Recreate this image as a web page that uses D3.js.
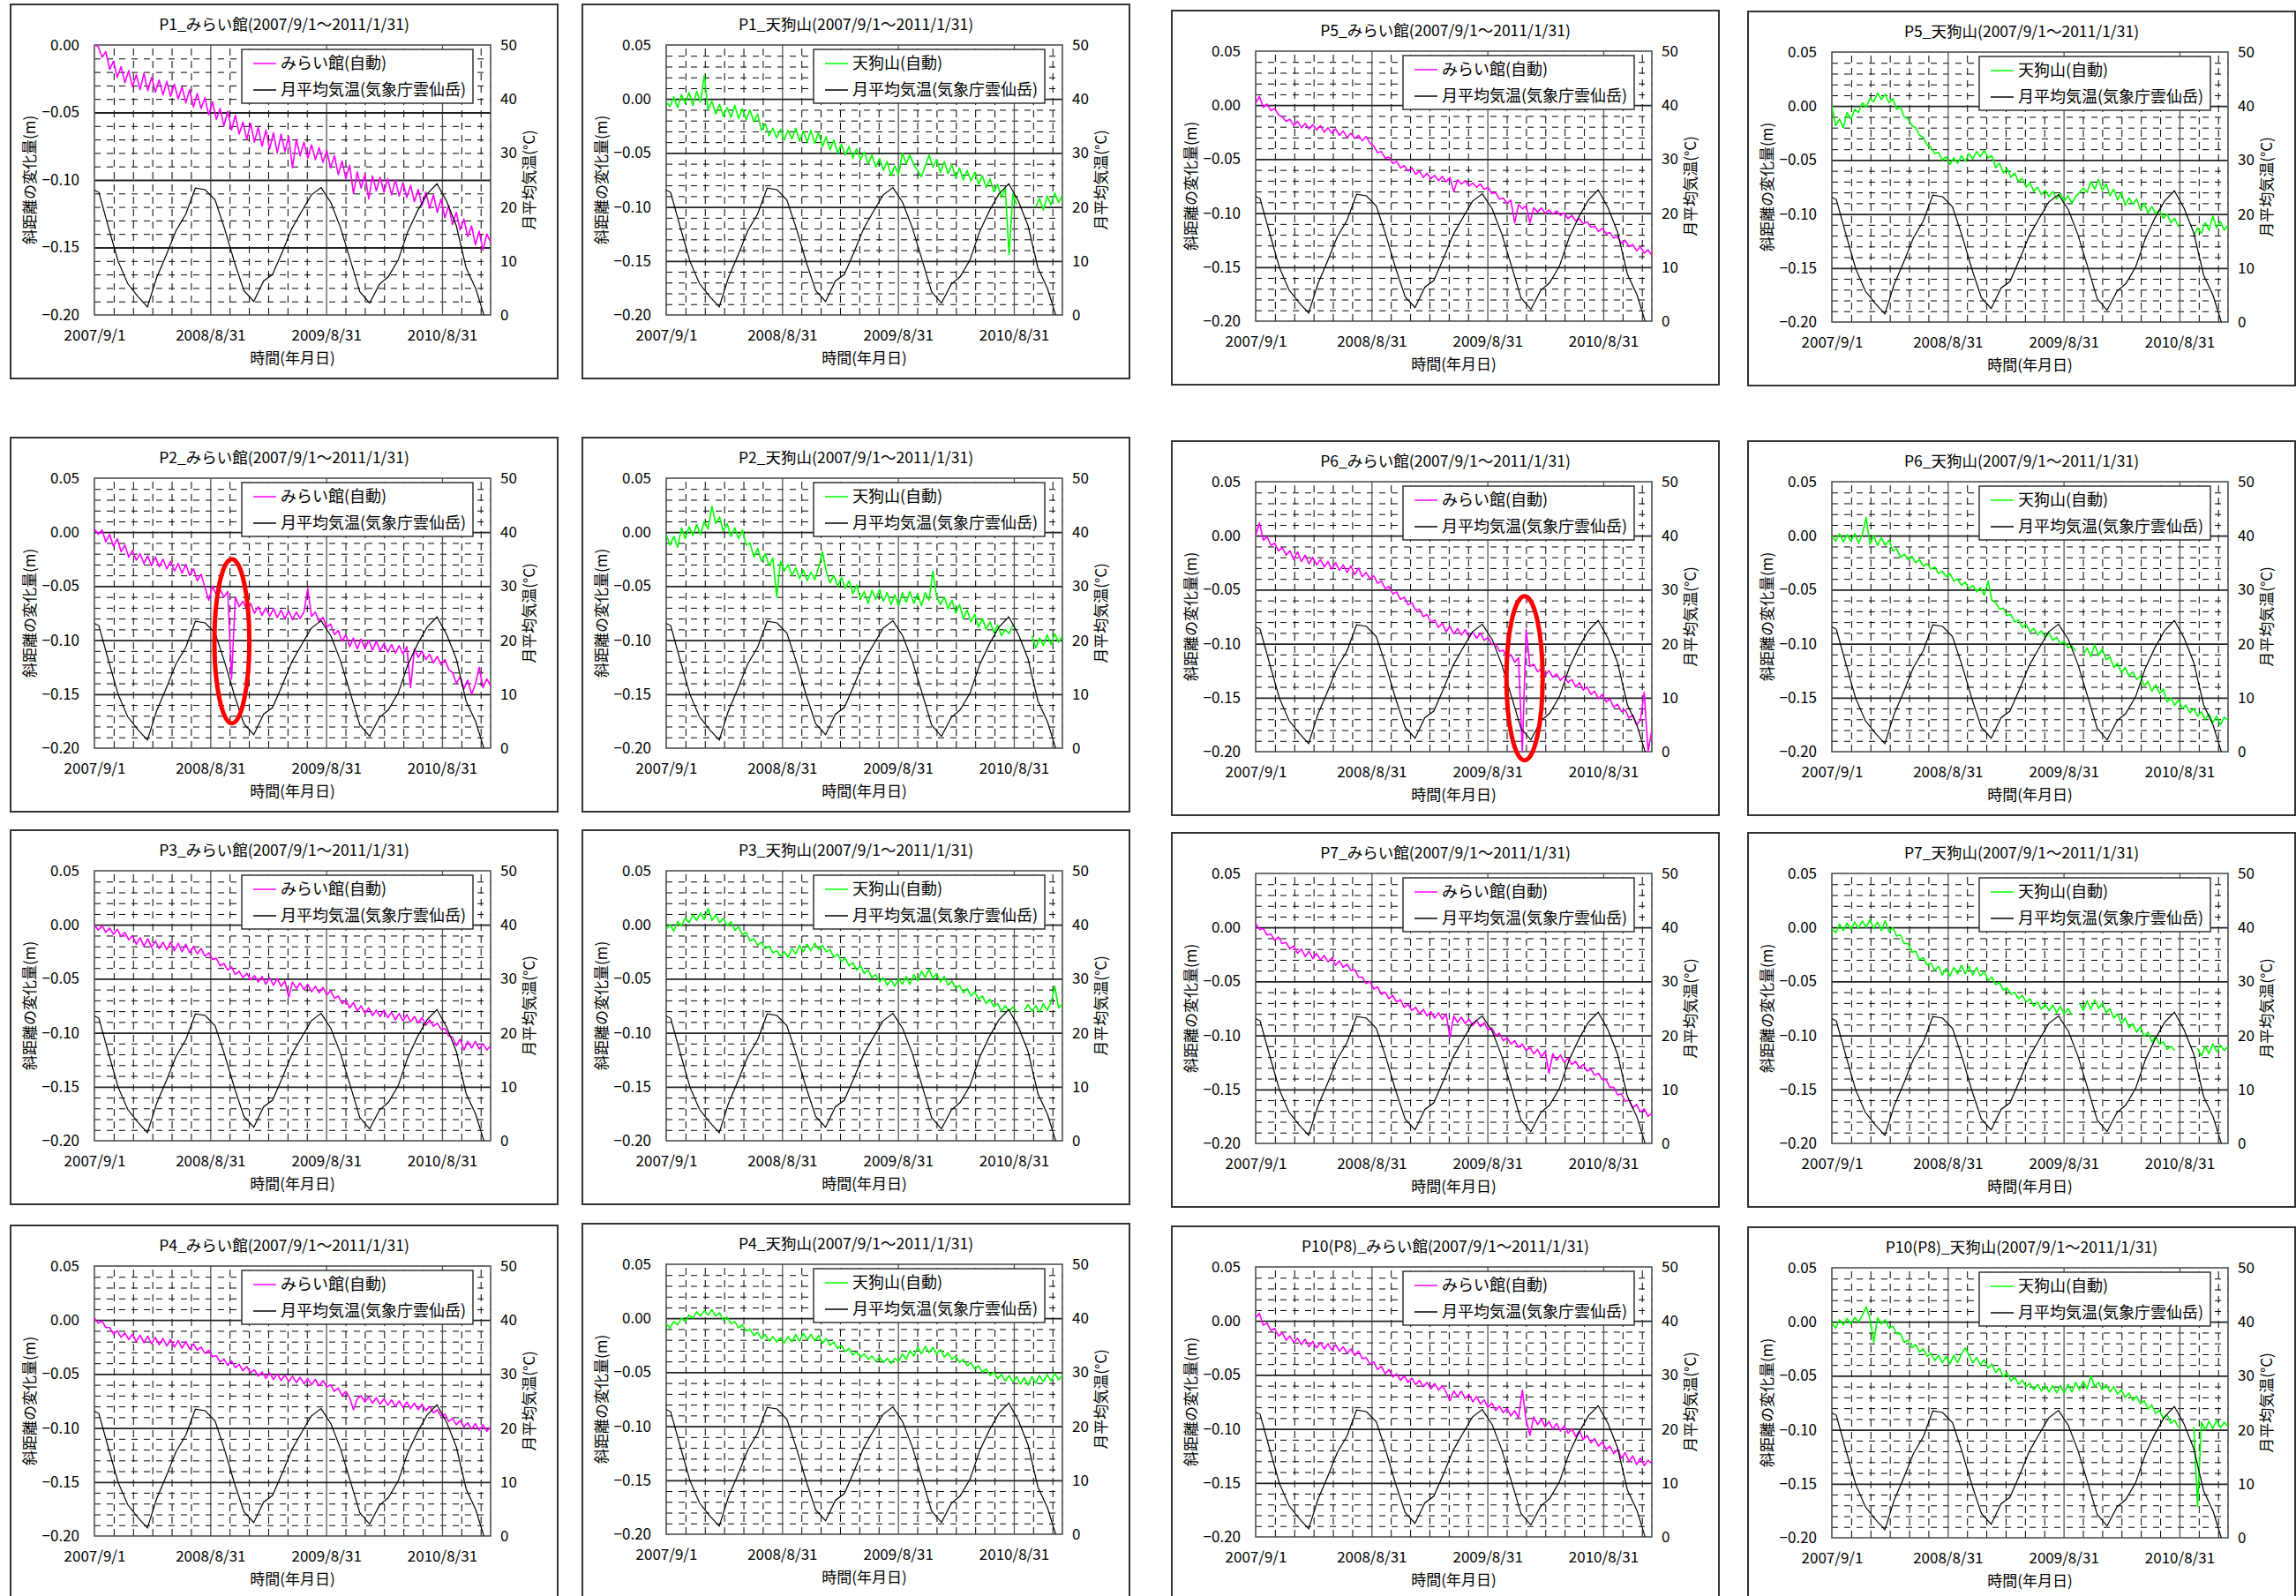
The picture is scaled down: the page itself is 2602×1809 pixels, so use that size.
<!DOCTYPE html>
<html>
<head>
<meta charset="utf-8">
<script src="https://cdn.jsdelivr.net/npm/d3@7"></script>
<style>
  body { margin: 0; background: #fff; }
  svg text { font-family: "Noto Sans CJK JP", "Noto Sans", sans-serif; fill: #000; }
</style>
</head>
<body>
<svg id="chart" width="2602" height="1809"></svg>
<script>
// ---------------------------
// Time axis
// ---------------------------
const startDate = new Date(Date.UTC(2007, 8, 1));
const endDate = new Date(Date.UTC(2011, 0, 31));
const sampleStepDays = 12;           // displacement values are read every 12 days
const xTickLabels = ["2007/9/1", "2008/8/31", "2009/8/31", "2010/8/31"];

// monthly mean temperature, Unzendake (JMA), mid-month from 2007/8
const tempStartMonth = new Date(Date.UTC(2007, 7, 15));
const tempValues = [23.6, 22.7, 16.3, 9.9, 5.8, 3.5, 1.5, 6.9, 11.2, 15.6, 18.7, 23.5,
  23.2, 21.3, 16.0, 9.8, 4.5, 2.5, 6.3, 7.5, 11.7, 16.0, 19.2, 22.2,
  23.6, 20.8, 16.2, 10.2, 4.3, 2.2, 5.7, 7.1, 10.2, 15.4, 19.3, 22.4,
  24.3, 21.0, 16.5, 8.7, 4.9, -1.0];

// ---------------------------
// Displacement (mm), one value per 12 days from 2007/9/1
// ---------------------------
const p1MiraiMm = [0,-1,-9,-5,-18,-12,-24,-16,-28,-19,
  -31,-22,-33,-21,-34,-24,-35,-26,-37,-27,
  -38,-29,-40,-31,-43,-33,-46,-36,-47,-39,
  -52,-42,-55,-47,-60,-49,-63,-52,-66,-57,
  -70,-58,-72,-61,-75,-63,-77,-65,-80,-66,
  -79,-68,-91,-70,-82,-72,-84,-74,-85,-76,
  -87,-78,-91,-82,-96,-86,-99,-89,-110,-94,
  -106,-96,-114,-97,-108,-98,-109,-99,-111,-100,
  -112,-102,-113,-104,-116,-107,-119,-109,-121,-111,
  -124,-114,-128,-119,-133,-124,-137,-129,-142,-134,
  -148,-138,-152,-140,-146];

const p1TenguMm = [-3,-7,2,-8,4,-4,6,-6,7,-3,
  22,-10,-2,-14,-5,-16,-8,-17,-6,-18,
  -9,-19,-10,-21,-14,-29,-23,-34,-27,-36,
  -28,-38,-29,-37,-27,-39,-30,-40,-29,-41,
  -31,-44,-35,-47,-38,-50,-42,-52,-44,-55,
  -46,-56,-49,-60,-52,-63,-55,-66,-58,-71,
  -62,-70,-50,-60,-52,-61,-66,-72,-62,-52,
  -63,-56,-68,-58,-69,-61,-73,-64,-75,-66,
  -76,-68,-79,-71,-82,-74,-86,-79,-91,-83,
  -144,-88,-98,null,null,null,null,-100,-92,-103,
  -90,-98,-87,-96,-89];

const p5MiraiMm = [2,8,-2,1,-5,-3,-9,-11,-15,-13,
  -19,-15,-21,-17,-22,-18,-23,-19,-25,-21,
  -26,-22,-28,-24,-30,-26,-31,-28,-33,-29,
  -35,-38,-44,-43,-49,-48,-54,-52,-58,-56,
  -61,-58,-64,-61,-67,-63,-68,-65,-70,-66,
  -71,-67,-80,-69,-73,-70,-75,-72,-76,-73,
  -78,-76,-82,-81,-87,-86,-91,-88,-109,-92,
  -96,-93,-109,-95,-99,-95,-100,-97,-101,-98,
  -102,-100,-105,-102,-107,-105,-110,-108,-113,-112,
  -117,-114,-119,-118,-123,-122,-128,-125,-131,-129,
  -135,-131,-137,-134,-139];

const p5TenguMm = [0,-18,-12,-20,-6,-12,-3,-6,3,-1,
  7,4,12,6,11,3,7,-3,-1,-10,
  -12,-18,-20,-27,-29,-36,-38,-44,-43,-50,
  -47,-54,-48,-53,-46,-51,-44,-49,-42,-47,
  -41,-48,-46,-57,-53,-62,-58,-66,-62,-70,
  -67,-75,-71,-79,-75,-82,-78,-84,-79,-86,
  -81,-88,-83,-90,-84,-80,-76,-80,-70,-77,
  -68,-78,-72,-83,-77,-87,-80,-92,-85,-91,
  -86,-96,-90,-99,-93,-100,-96,-104,-100,-108,
  -104,-112,null,null,null,-120,-113,-118,-108,-115,
  -102,-113,-107,-115,-110];

const p2MiraiMm = [3,-2,2,-9,-2,-13,-6,-18,-12,-23,
  -17,-26,-20,-29,-22,-31,-23,-32,-25,-34,
  -27,-36,-29,-38,-30,-40,-34,-45,-39,-51,
  -63,-50,-58,-53,-60,-55,-136,-60,-69,-64,
  -72,-66,-75,-69,-77,-70,-78,-71,-79,-72,
  -80,-73,-81,-74,-80,-74,-52,-78,-74,-83,
  -79,-88,-85,-95,-91,-101,-95,-106,-98,-108,
  -99,-108,-100,-109,-101,-110,-103,-111,-104,-112,
  -105,-113,-106,-144,-108,-116,-110,-118,-113,-121,
  -115,-123,-118,-127,-130,-140,-134,-145,-137,-150,
  -141,-125,-144,-136,-142];

const p2TenguMm = [-2,-12,-4,-14,4,-6,5,-3,7,-2,
  10,3,24,8,14,1,8,-4,4,-6,
  2,-12,-10,-23,-15,-27,-20,-31,-24,-60,
  -27,-36,-30,-40,-33,-43,-35,-45,-37,-44,
  -33,-18,-36,-47,-40,-50,-42,-52,-45,-57,
  -49,-62,-55,-66,-54,-62,-53,-64,-56,-67,
  -58,-68,-56,-65,-55,-66,-57,-68,-56,-63,
  -36,-60,-67,-60,-71,-63,-75,-67,-80,-72,
  -83,-76,-88,-80,-90,-83,-93,-86,-96,-90,
  -94,-86,null,null,null,null,-96,-107,-98,-105,
  -95,-104,-94,-102,-96];

const p6MiraiMm = [0,12,-4,-1,-9,-7,-14,-11,-18,-14,
  -22,-15,-24,-18,-26,-20,-27,-22,-29,-24,
  -31,-25,-32,-27,-34,-28,-36,-30,-38,-34,
  -40,-37,-44,-42,-49,-47,-54,-52,-59,-57,
  -64,-62,-69,-68,-75,-73,-80,-78,-85,-81,
  -89,-84,-91,-86,-92,-87,-94,-89,-95,-90,
  -97,-94,-101,-100,-107,-106,-113,-110,-117,-113,
  -200,-87,-121,-119,-126,-123,-129,-125,-131,-128,
  -134,-130,-136,-133,-140,-136,-143,-140,-147,-144,
  -151,-147,-154,-151,-159,-156,-163,-161,-169,-166,
  -175,-171,-145,-200,-180];

const p6TenguMm = [0,-5,2,-6,1,-5,2,-7,1,17,
  -8,0,-9,-2,-9,-4,-14,-12,-20,-17,
  -22,-19,-25,-22,-28,-26,-31,-29,-35,-33,
  -38,-35,-42,-40,-46,-43,-49,-46,-52,-48,
  -55,-42,-60,-62,-68,-67,-74,-73,-80,-78,
  -85,-82,-89,-86,-92,-88,-94,-90,-97,-94,
  -100,-98,-104,-102,-107,null,-110,-104,-112,-101,
  -111,-105,-115,-112,-122,-118,-127,-122,-130,-126,
  -133,-130,-139,-135,-144,-138,-146,-142,-154,-150,
  -157,-152,-160,-157,-164,-160,-167,-163,-170,-165,
  -173,-167,-175,-168,-171];

const p3MiraiMm = [0,-5,-1,-7,-3,-9,-4,-11,-7,-14,
  -10,-18,-12,-20,-13,-21,-15,-22,-16,-23,
  -16,-24,-17,-25,-18,-26,-20,-27,-22,-29,
  -26,-32,-31,-38,-36,-42,-39,-46,-43,-49,
  -45,-51,-47,-53,-48,-55,-49,-56,-50,-57,
  -52,-67,-53,-59,-54,-60,-55,-62,-57,-63,
  -58,-65,-61,-68,-66,-73,-70,-77,-72,-80,
  -75,-82,-77,-84,-79,-85,-79,-86,-81,-88,
  -82,-89,-83,-90,-85,-91,-86,-93,-88,-94,
  -91,-97,-96,-103,-104,-112,-106,-116,-108,-114,
  -108,-115,-110,-116,-112];

const p3TenguMm = [-4,0,-6,3,-1,6,2,9,4,11,
  5,15,4,9,2,6,-1,3,-5,-2,
  -9,-7,-15,-13,-19,-16,-22,-20,-26,-24,
  -29,-25,-30,-22,-27,-19,-25,-18,-24,-17,
  -23,-19,-25,-23,-30,-27,-34,-31,-38,-35,
  -42,-38,-45,-42,-49,-46,-53,-49,-56,-51,
  -57,-50,-55,-48,-55,-46,-52,-43,-49,-41,
  -50,-45,-53,-48,-56,-52,-59,-56,-63,-59,
  -66,-62,-69,-66,-73,-69,-76,-73,-80,-75,
  -80,-76,-81,null,-79,-74,-80,-75,-81,-73,
  -79,-72,-57,-77,-73];

const p7MiraiMm = [4,-2,-1,-7,-6,-12,-9,-15,-14,-20,
  -17,-24,-20,-27,-22,-29,-24,-30,-26,-32,
  -28,-35,-31,-37,-34,-40,-39,-46,-46,-52,
  -50,-57,-55,-62,-60,-66,-63,-69,-67,-74,
  -71,-77,-74,-80,-76,-82,-78,-84,-79,-85,
  -80,-102,-82,-88,-83,-89,-85,-91,-86,-92,
  -88,-95,-93,-100,-98,-105,-102,-108,-105,-111,
  -108,-114,-111,-117,-113,-120,-115,-135,-117,-123,
  -118,-125,-121,-127,-124,-130,-127,-133,-131,-137,
  -135,-141,-141,-148,-148,-155,-154,-161,-160,-167,
  -164,-171,-168,-175,-172];

const p7TenguMm = [-1,-5,3,-3,4,-2,5,-1,6,0,
  7,-1,5,-3,6,-4,0,-8,-7,-15,
  -15,-23,-22,-30,-28,-35,-33,-40,-36,-44,
  -38,-45,-37,-43,-35,-43,-36,-44,-37,-45,
  -41,-49,-46,-53,-51,-58,-56,-62,-60,-66,
  -63,-69,-66,-73,-69,-76,-71,-77,-72,-79,
  -73,-80,-75,-81,null,-70,-77,-68,-76,-67,
  -75,-70,-79,-75,-84,-80,-89,-84,-93,-89,
  -97,-92,-101,-97,-106,-101,-108,-106,-113,-110,
  -114,null,null,null,null,null,-112,-119,-110,-117,
  -108,-115,-109,-114,-110];

const p4MiraiMm = [2,-3,-1,-7,-7,-13,-10,-16,-12,-18,
  -13,-20,-14,-21,-15,-22,-16,-23,-17,-24,
  -18,-25,-19,-26,-20,-27,-22,-28,-25,-31,
  -28,-34,-33,-39,-36,-42,-38,-44,-41,-47,
  -43,-49,-46,-52,-48,-54,-49,-55,-50,-56,
  -51,-57,-52,-58,-53,-59,-54,-60,-55,-61,
  -56,-62,-60,-66,-63,-70,-66,-72,-83,-73,
  -70,-76,-71,-77,-72,-78,-73,-79,-74,-80,
  -75,-81,-76,-82,-77,-83,-78,-84,-80,-86,
  -83,-89,-87,-94,-91,-97,-93,-99,-95,-101,
  -96,-102,-97,-103,-99];

const p4TenguMm = [-5,-9,-3,-6,0,-3,3,0,6,2,
  7,3,8,2,5,-2,1,-5,-3,-9,
  -6,-12,-10,-16,-13,-19,-15,-21,-17,-22,
  -18,-23,-17,-22,-15,-21,-14,-20,-15,-21,
  -16,-23,-19,-25,-22,-28,-25,-31,-28,-34,
  -31,-36,-33,-38,-35,-40,-36,-41,-37,-42,
  -37,-40,-33,-38,-30,-35,-27,-33,-26,-32,
  -27,-33,-29,-36,-32,-38,-35,-41,-38,-44,
  -41,-47,-44,-50,-47,-53,-50,-56,-52,-58,
  -53,-59,-54,-61,-55,-62,-54,-60,-53,-59,
  -52,-58,-51,-57,-53];

const p10MiraiMm = [3,7,-4,-2,-9,-7,-14,-11,-18,-14,
  -20,-16,-22,-17,-24,-19,-25,-20,-26,-21,
  -27,-22,-28,-24,-30,-26,-32,-28,-35,-34,
  -40,-38,-45,-42,-49,-45,-52,-49,-55,-51,
  -57,-53,-59,-55,-61,-57,-63,-58,-64,-60,
  -66,-74,-65,-70,-65,-72,-68,-75,-70,-77,
  -73,-80,-76,-83,-79,-85,-81,-88,-83,-90,
  -64,-92,-106,-89,-96,-91,-98,-93,-100,-95,
  -102,-97,-104,-100,-107,-102,-110,-106,-113,-109,
  -116,-112,-119,-116,-123,-119,-127,-122,-130,-125,
  -133,-127,-134,-129,-132];

const p10TenguMm = [-1,-6,2,-3,3,-2,4,0,6,14,
  3,-19,4,-2,2,-6,-4,-11,-11,-19,
  -17,-24,-21,-28,-25,-32,-29,-36,-31,-38,
  -32,-39,-31,-38,-30,-24,-31,-38,-33,-40,
  -35,-43,-39,-47,-43,-51,-47,-55,-51,-58,
  -54,-60,-57,-63,-58,-64,-59,-65,-59,-66,
  -59,-66,-58,-65,-56,-63,-55,-62,-50,-60,
  -56,-63,-58,-65,-60,-67,-63,-70,-66,-73,
  -69,-76,-73,-81,-77,-85,-82,-90,-86,-94,
  -91,-98,null,null,null,-97,-171,-93,-100,-92,
  -99,-91,-98,-93,-97];

// ---------------------------
// Panels (row by row)
// ---------------------------
const panels = [
  { point: "P1", site: "みらい館", values: p1MiraiMm, yTop: 0.00 },
  { point: "P1", site: "天狗山", values: p1TenguMm },
  { point: "P5", site: "みらい館", values: p5MiraiMm },
  { point: "P5", site: "天狗山", values: p5TenguMm },
  { point: "P2", site: "みらい館", values: p2MiraiMm },
  { point: "P2", site: "天狗山", values: p2TenguMm },
  { point: "P6", site: "みらい館", values: p6MiraiMm },
  { point: "P6", site: "天狗山", values: p6TenguMm },
  { point: "P3", site: "みらい館", values: p3MiraiMm },
  { point: "P3", site: "天狗山", values: p3TenguMm },
  { point: "P7", site: "みらい館", values: p7MiraiMm },
  { point: "P7", site: "天狗山", values: p7TenguMm },
  { point: "P4", site: "みらい館", values: p4MiraiMm },
  { point: "P4", site: "天狗山", values: p4TenguMm },
  { point: "P10(P8)", site: "みらい館", values: p10MiraiMm },
  { point: "P10(P8)", site: "天狗山", values: p10TenguMm }
];

// red rings around the outliers: panel index, centre date/value, half sizes
const highlights = [
  { panel: 4, date: new Date(Date.UTC(2008, 10, 7)), value: -0.101, rxDays: 55, ryValue: 0.076 },
  { panel: 6, date: new Date(Date.UTC(2009, 11, 26)), value: -0.132, rxDays: 57, ryValue: 0.076 }
];

const siteColor = { "みらい館": "#ff00ff", "天狗山": "#00ff00" };

// ---------------------------
// Layout
// ---------------------------
const W = 620, H = 424;
const m = { left: 95, right: 76, top: 46, bottom: 72 };
const pw = W - m.left - m.right;
const ph = H - m.top - m.bottom;
const colX = [12, 660, 1328, 1981];
const rowY = [[5, 5, 12, 13], [496, 496, 500, 500], [941, 941, 944, 944], [1389, 1387, 1390, 1391]];

const svg = d3.select("#chart");
svg.append("rect").attr("width", 2602).attr("height", 1809).attr("fill", "#fff");

const dayMs = 864e5;
const majorDates = d3.range(4).map(k => d3.utcDay.offset(startDate, 365 * k));
const minorDates = d3.range(1, 21)
  .filter(k => k % 6 !== 0)
  .map(k => new Date(+startDate + k * 365 / 6 * dayMs))
  .filter(d => d < endDate);

panels.forEach((p, idx) => {
  const r = Math.floor(idx / 4), c = idx % 4;
  const g = svg.append("g").attr("transform", `translate(${colX[c]},${rowY[r][c]})`);

  g.append("rect")
    .attr("width", W).attr("height", H)
    .attr("fill", "#fff").attr("stroke", "#333").attr("stroke-width", 2);

  const yTop = p.yTop !== undefined ? p.yTop : 0.05;
  const x = d3.scaleUtc().domain([startDate, endDate]).range([0, pw]);
  const y = d3.scaleLinear().domain([-0.20, yTop]).range([ph, 0]);
  const y2 = d3.scaleLinear().domain([0, 50]).range([ph, 0]);

  const plot = g.append("g").attr("transform", `translate(${m.left},${m.top})`);

  // grid ---------------------------------------------------------
  const hundredths = d3.range(-20, Math.round(yTop * 100) + 1);
  const minorY = hundredths.filter(v => v % 5 !== 0).map(v => v / 100);
  const majorY = hundredths.filter(v => v % 5 === 0).map(v => v / 100);

  plot.append("g")
    .call(d3.axisLeft(y).tickValues(minorY).tickSize(-pw).tickFormat(""))
    .call(a => a.select(".domain").remove())
    .selectAll("line").attr("stroke", "#000").attr("stroke-width", 1).attr("stroke-dasharray", "7,7");

  plot.append("g")
    .attr("transform", `translate(0,${ph})`)
    .call(d3.axisBottom(x).tickValues(minorDates).tickSize(-ph).tickFormat(""))
    .call(a => a.select(".domain").remove())
    .selectAll("line").attr("stroke", "#000").attr("stroke-width", 1).attr("stroke-dasharray", "8,6");

  plot.append("g")
    .attr("transform", `translate(0,${ph})`)
    .call(d3.axisBottom(x).tickValues(majorDates.slice(1)).tickSize(-ph).tickFormat(""))
    .call(a => a.select(".domain").remove())
    .selectAll("line").attr("stroke", "#555").attr("stroke-width", 1.3);

  plot.append("g")
    .call(d3.axisLeft(y).tickValues(majorY.slice(1, -1)).tickSize(-pw).tickFormat(""))
    .call(a => a.select(".domain").remove())
    .selectAll("line").attr("stroke", "#222").attr("stroke-width", 1.8);

  plot.append("rect")
    .attr("width", pw).attr("height", ph)
    .attr("fill", "none").attr("stroke", "#444").attr("stroke-width", 1.5);

  // axes labels ----------------------------------------------------
  const fmt = d3.format(".2f");
  plot.append("g")
    .call(d3.axisLeft(y).tickValues(majorY).tickFormat(fmt).tickSize(0).tickPadding(17))
    .call(a => a.select(".domain").remove())
    .attr("font-size", 17);

  plot.append("g")
    .attr("transform", `translate(${pw},0)`)
    .call(d3.axisRight(y2).tickValues([0, 10, 20, 30, 40, 50]).tickSize(0).tickPadding(11))
    .call(a => a.select(".domain").remove())
    .attr("font-size", 17);

  plot.append("g")
    .attr("transform", `translate(0,${ph})`)
    .call(d3.axisBottom(x).tickValues(majorDates).tickFormat((d, i) => xTickLabels[i]).tickSize(0).tickPadding(17))
    .call(a => a.select(".domain").remove())
    .attr("font-size", 17);

  // series ---------------------------------------------------------
  const clipId = `clip${idx}`;
  plot.append("clipPath").attr("id", clipId)
    .append("rect").attr("width", pw).attr("height", ph);

  const disp = d3.line()
    .defined(d => d != null)
    .x((d, i) => x(d3.utcDay.offset(startDate, i * sampleStepDays)))
    .y(d => y(d / 1000));

  plot.append("path")
    .attr("clip-path", `url(#${clipId})`)
    .attr("d", disp(p.values))
    .attr("fill", "none")
    .attr("stroke", siteColor[p.site])
    .attr("stroke-width", 1.6)
    .attr("stroke-linejoin", "round");

  const temp = d3.line()
    .x((d, i) => x(d3.utcMonth.offset(tempStartMonth, i)))
    .y(d => y2(d));

  plot.append("path")
    .attr("clip-path", `url(#${clipId})`)
    .attr("d", temp(tempValues))
    .attr("fill", "none")
    .attr("stroke", "#000")
    .attr("stroke-width", 1.2);

  highlights.filter(h => h.panel === idx).forEach(h => {
    const cx = x(h.date);
    const cy = y(h.value);
    plot.append("ellipse")
      .attr("cx", cx).attr("cy", cy)
      .attr("rx", x(d3.utcDay.offset(h.date, h.rxDays)) - cx)
      .attr("ry", y(h.value - h.ryValue) - cy)
      .attr("fill", "none")
      .attr("stroke", "#ff0000")
      .attr("stroke-width", 5);
  });

  // legend ---------------------------------------------------------
  const legend = g.append("g").attr("transform", "translate(262,51)");
  legend.append("rect")
    .attr("width", 262).attr("height", 61)
    .attr("fill", "#fff").attr("stroke", "#333").attr("stroke-width", 1.5);

  const legendItems = [
    { label: `${p.site}(自動)`, color: siteColor[p.site] },
    { label: "月平均気温(気象庁雲仙岳)", color: "#000" }
  ];
  const item = legend.selectAll("g.item")
    .data(legendItems)
    .join("g")
    .attr("class", "item")
    .attr("transform", (d, i) => `translate(0,${16 + i * 30})`);
  item.append("line")
    .attr("x1", 13).attr("x2", 39)
    .attr("stroke", d => d.color).attr("stroke-width", 1.5);
  item.append("text")
    .attr("x", 44)
    .attr("dy", "0.35em")
    .attr("font-size", 18)
    .text(d => d.label);

  // titles ---------------------------------------------------------
  g.append("text")
    .attr("x", W / 2).attr("y", 29)
    .attr("text-anchor", "middle")
    .attr("font-size", 17.5)
    .text(`${p.point}_${p.site}(2007/9/1～2011/1/31)`);

  g.append("text")
    .attr("transform", `translate(22,${m.top + ph / 2}) rotate(-90)`)
    .attr("text-anchor", "middle")
    .attr("dy", "0.35em")
    .attr("font-size", 17)
    .text("斜距離の変化量(m)");

  g.append("text")
    .attr("transform", `translate(${m.left + pw + 44},${m.top + ph / 2}) rotate(-90)`)
    .attr("text-anchor", "middle")
    .attr("dy", "0.35em")
    .attr("font-size", 17)
    .text("月平均気温(°C)");

  g.append("text")
    .attr("x", m.left + pw / 2).attr("y", m.top + ph + 55)
    .attr("text-anchor", "middle")
    .attr("font-size", 17)
    .text("時間(年月日)");
});
</script>
</body>
</html>
